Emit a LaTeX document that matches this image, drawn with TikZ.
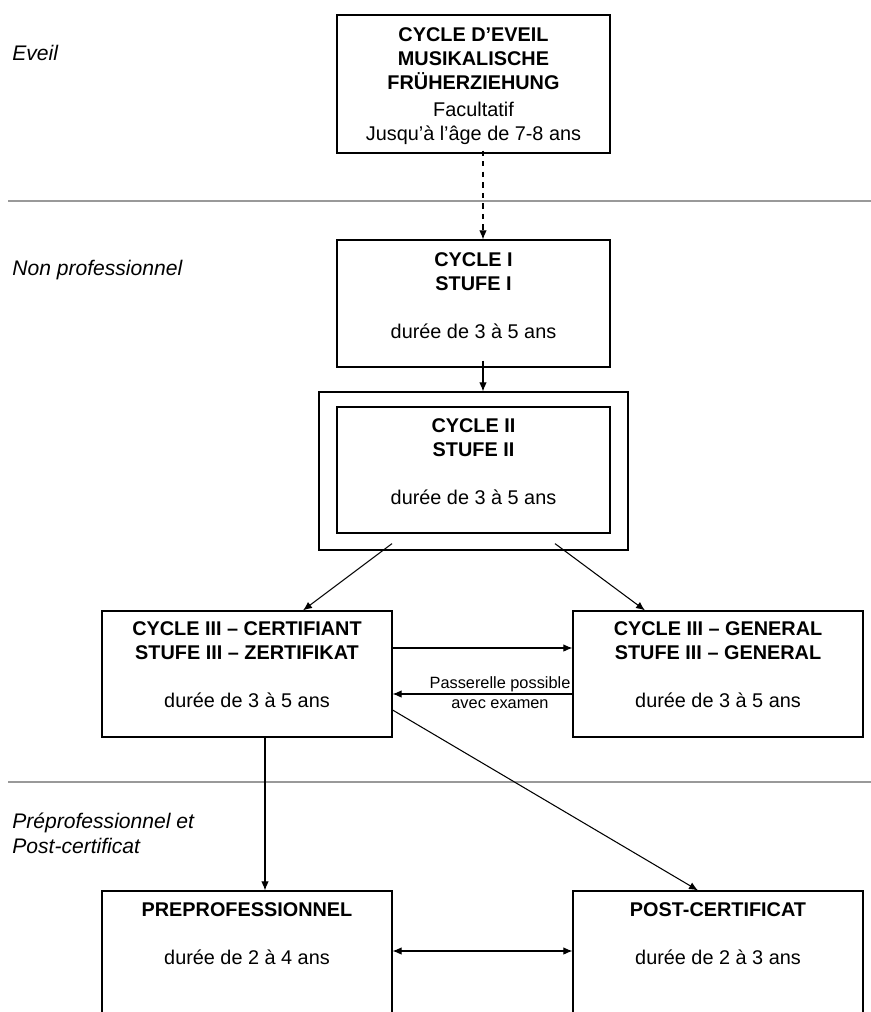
\documentclass[tikz,border=0pt]{standalone}
\usepackage{fontspec}
\setmainfont{Liberation Sans}
\usetikzlibrary{arrows.meta}
\definecolor{sepgray}{rgb}{0.6,0.6,0.6}

\begin{document}
\begin{tikzpicture}[x=0.02cm,y=-0.02cm,
  >={Latex[length=1.8mm,width=1.5mm]},
  cbox/.style={draw,line width=0.7pt,minimum width=5.46cm,minimum height=2.52cm,inner sep=0pt},
  wbox/.style={cbox,minimum width=5.8cm},
  ctext/.style={anchor=north,align=center,inner sep=0pt,font=\fontsize{11.3}{13.6}\selectfont},
  side/.style={anchor=base west,inner sep=0pt,align=left,font=\fontsize{12}{14.2}\selectfont\itshape},
  arr/.style={->,line width=0.6pt}]
\useasboundingbox (0,0) rectangle (871,1012);

% levels
\draw[sepgray,line width=0.8pt] (8,201) -- (871,201);
\draw[sepgray,line width=0.8pt] (8,782) -- (871,782);
\node[side] (lev1) at (12,60) {Eveil};
\node[side] (lev2) at (12,275) {Non professionnel};
\node[side,anchor=north west] (lev3) at (12,813) {Préprofessionnel et\\Post-certificat};

% boxes
\node[cbox,minimum height=2.76cm] (eveil) at (473.5,84) {};
\node[cbox,minimum height=2.54cm] (cyc1) at (473.5,303.5) {};
\node[draw,line width=0.7pt,minimum width=6.18cm,minimum height=3.16cm] (cyc2o) at (473.5,471) {};
\node[cbox] (cyc2) at (473.5,470) {};
\node[wbox] (cert) at (247,674) {};
\node[wbox] (gen) at (718,674) {};
\node[wbox] (prepro) at (247,954) {};
\node[wbox] (post) at (718,954) {};

\node[ctext] (eveil-t) at ([yshift=-0.26cm]eveil.north) {\textbf{CYCLE D’EVEIL}\\\textbf{MUSIKALISCHE}\\\textbf{FRÜHERZIEHUNG}\\[2pt]Facultatif\\Jusqu’à l’âge de 7-8 ans};
\node[ctext] (cyc1-t) at ([yshift=-0.26cm]cyc1.north) {\textbf{CYCLE I}\\\textbf{STUFE I}\\[13.6pt]durée de 3 à 5 ans};
\node[ctext] (cyc2-t) at ([yshift=-0.24cm]cyc2.north) {\textbf{CYCLE II}\\\textbf{STUFE II}\\[13.6pt]durée de 3 à 5 ans};
\node[ctext] (cert-t) at ([yshift=-0.22cm]cert.north) {\textbf{CYCLE III – CERTIFIANT}\\\textbf{STUFE III – ZERTIFIKAT}\\[13.6pt]durée de 3 à 5 ans};
\node[ctext] (gen-t) at ([yshift=-0.22cm]gen.north) {\textbf{CYCLE III – GENERAL}\\\textbf{STUFE III – GENERAL}\\[13.6pt]durée de 3 à 5 ans};
\node[ctext] (prepro-t) at ([yshift=-0.24cm]prepro.north) {\textbf{PREPROFESSIONNEL}\\[13.6pt]durée de 2 à 4 ans};
\node[ctext] (post-t) at ([yshift=-0.24cm]post.north) {\textbf{POST-CERTIFICAT}\\[13.6pt]durée de 2 à 3 ans};

% arrows
\draw[arr,dashed] ([xshift=0.19cm,yshift=0.06cm]eveil.south) -- ([xshift=0.19cm]cyc1.north);
\draw[arr] ([xshift=0.19cm,yshift=0.14cm]cyc1.south) -- ([xshift=0.19cm]cyc2o.north);
\draw[arr] ([xshift=-1.63cm,yshift=0.14cm]cyc2o.south) -- ([xshift=1.12cm]cert.north);
\draw[arr] ([xshift=1.63cm,yshift=0.14cm]cyc2o.south) -- ([xshift=-1.46cm]gen.north);
\draw[arr] ([yshift=0.52cm]cert.east) -- ([yshift=0.52cm]gen.west);
\draw[arr] ([yshift=-0.4cm]gen.west) -- ([yshift=-0.4cm]cert.east);
\node[align=center,inner sep=0pt,font=\fontsize{9.3}{11.3}\selectfont] (pass) at (500,693) {Passerelle possible\\avec examen};
\draw[arr] ([xshift=0.36cm]cert.south) -- ([xshift=0.36cm]prepro.north);
\draw[arr] ([yshift=-0.72cm]cert.east) -- ([xshift=-0.4cm]post.north);
\draw[arr,<->] ([yshift=0.06cm]prepro.east) -- ([yshift=0.06cm]post.west);
\end{tikzpicture}
\end{document}
